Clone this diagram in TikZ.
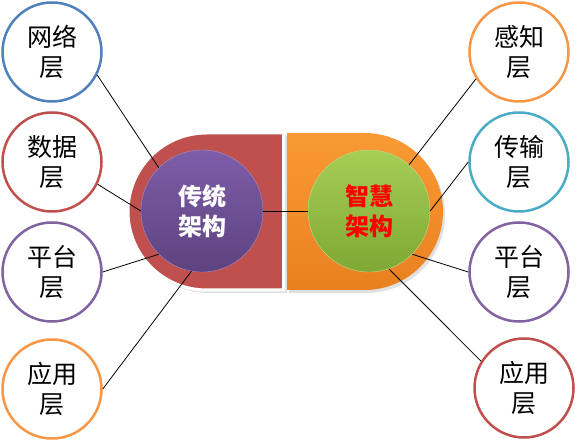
\documentclass[tikz,border=0pt]{standalone}
\usepackage{fontspec}
\newfontfamily\cjk{Noto Sans CJK SC}
\usetikzlibrary{positioning, calc}

\definecolor{layerBlue}{HTML}{4F81BD}
\definecolor{layerRed}{HTML}{C0504D}
\definecolor{layerPurple}{HTML}{8064A2}
\definecolor{layerOrange}{HTML}{F79646}
\definecolor{layerAqua}{HTML}{4BACC6}
\definecolor{pillRed}{HTML}{C0504D}
\definecolor{pillOrangeTop}{HTML}{FA9A35}
\definecolor{pillOrangeBot}{HTML}{E9801F}
\definecolor{hubPurpleTop}{HTML}{7E5DA9}
\definecolor{hubPurpleBot}{HTML}{5D437F}
\definecolor{hubGreenTop}{HTML}{A6CE55}
\definecolor{hubGreenBot}{HTML}{7FA834}

\tikzset{
	layer/.style={circle, draw=#1, line width=2.5pt, fill=white, minimum size=99pt, inner sep=0pt, align=center, font=\cjk\fontsize{25}{30}\selectfont},
	hub/.style={circle, minimum size=122pt, inner sep=0pt, align=center, font=\cjk\bfseries\fontsize{24}{30}\selectfont},
	link/.style={draw, black, line width=0.8pt},
}

\begin{document}
\begin{tikzpicture}[x=1pt, y=1pt]
		\useasboundingbox (0,0) rectangle (577,441);
		\coordinate (L) at (206.5, 229.5);
		\coordinate (R) at (364.5, 229.5);
		% the two half pills
		\fill[black!12] ($(L)+(2,-3)$) ++(78.5,78.5) -- ++(-78.5,0) arc (90:270:78.5) -- ++(78.5,0) -- cycle;
		\filldraw[fill=pillRed, draw=white, line width=3pt] (L) ++(77,78.5) -- ++(-77,0) arc (90:270:78.5) -- ++(77,0) -- cycle;
		\fill[black!12] ($(R)+(2,-3)$) ++(-77.5,78.5) -- ++(77.5,0) arc (90:-90:78.5) -- ++(-77.5,0) -- cycle;
		\shade[top color=pillOrangeTop, bottom color=pillOrangeBot] (R) ++(-77.5,78.5) -- ++(77.5,0) arc (90:-90:78.5) -- ++(-77.5,0) -- cycle;
		% hubs
		\node[hub, top color=hubPurpleTop, bottom color=hubPurpleBot, draw=hubPurpleTop!70!white, text=white] (old) at (202,230) {传统\\架构};
		\node[hub, top color=hubGreenTop, bottom color=hubGreenBot, draw=hubGreenTop!70!white, text=red] (smart) at (369,230) {智慧\\架构};
		% layers
		\node[layer=layerBlue] (net) at (52,389) {网络\\层};
		\node[layer=layerRed] (data) at (52,279) {数据\\层};
		\node[layer=layerPurple] (plat) at (52,169) {平台\\层};
		\node[layer=layerOrange] (app) at (52,52) {应用\\层};
		\node[layer=layerOrange] (sense) at (519,389) {感知\\层};
		\node[layer=layerAqua] (trans) at (519,279) {传输\\层};
		\node[layer=layerPurple] (rplat) at (519,169) {平台\\层};
		\node[layer=layerRed] (rapp) at (524,53) {应用\\层};
		% links
		\path[link] (old.east) -- (smart.west);
		\path[link] (net.-27) -- (old.135);
		\path[link] (data.-26) -- (old.180);
		\path[link] (plat.0) -- (old.225);
		\path[link] (app.0) -- (old.260);
		\path[link] (sense.212) -- (smart.49);
		\path[link] (trans.180) -- (smart.0);
		\path[link] (rplat.180) -- (smart.-45);
		\path[link] (rapp.148) -- (smart.289);
	\end{tikzpicture}
\end{document}
